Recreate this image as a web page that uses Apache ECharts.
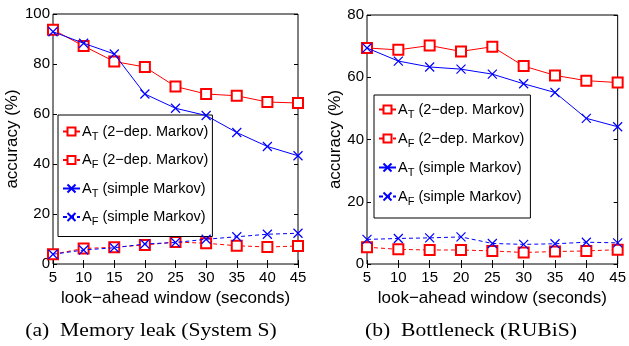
<!DOCTYPE html>
<html><head><meta charset="utf-8">
<script src="https://cdn.jsdelivr.net/npm/echarts@6/dist/echarts.min.js"></script>
<style>html,body{margin:0;padding:0;background:#fff}#c{width:629px;height:346px}</style>
</head><body><div id="c"></div>
<script>
var windows = [5, 10, 15, 20, 25, 30, 35, 40, 45];
// (a) Memory leak (System S)
var a_AT_dep = [93.7, 87.2, 81.0, 78.8, 71.0, 68.0, 67.3, 64.8, 64.4];
var a_AF_dep = [3.9, 6.2, 6.7, 7.6, 8.8, 8.3, 7.3, 6.8, 7.2];
var a_AT_simple = [92.9, 88.3, 84.0, 68.0, 62.3, 59.4, 52.6, 47.0, 43.3];
var a_AF_simple = [3.9, 5.6, 6.5, 8.0, 8.6, 9.9, 10.9, 11.9, 12.3];
// (b) Bottleneck (RUBiS)
var b_AT_dep = [69.4, 68.8, 70.2, 68.3, 69.8, 63.6, 60.6, 58.9, 58.3];
var b_AF_dep = [5.4, 4.7, 4.5, 4.5, 4.2, 3.7, 4.0, 4.2, 4.6];
var b_AT_simple = [69.4, 65.2, 63.3, 62.6, 61.0, 57.9, 55.1, 46.8, 44.1];
var b_AF_simple = [7.9, 8.2, 8.4, 8.7, 6.6, 6.3, 6.5, 7.0, 6.8];
var names = ['AT_dep', 'AF_dep', 'AT_simple', 'AF_simple'];
var legendText = {
  'AT_dep': 'A{s|T} (2\u2212dep. Markov)',
  'AF_dep': 'A{s|F} (2\u2212dep. Markov)',
  'AT_simple': 'A{s|T} (simple Markov)',
  'AF_simple': 'A{s|F} (simple Markov)'
};
var xName = 'look\u2212ahead window (seconds)';
var yName = 'accuracy (%)';
var captions = ['(a)  Memory leak (System S)', '(b)  Bottleneck (RUBiS)'];

var chart = echarts.init(document.getElementById('c'), null, {renderer: 'canvas'});
var font = 'Liberation Sans, Arial, sans-serif';
var RED = '#ff0000', BLUE = '#0000ff';
var xPath = 'path://M0,0L10,10M10,0L0,10';

function pairs(vals) { return windows.map(function (w, i) { return [w, vals[i]]; }); }

function mkSeries(name, vals, gi, style) {
  var isRed = style.color === RED;
  return {
    name: name, type: 'line', xAxisIndex: gi * 2, yAxisIndex: gi * 2,
    data: pairs(vals),
    symbol: isRed ? 'emptyRect' : xPath,
    symbolSize: isRed ? 10 : 9,
    showAllSymbol: true,
    lineStyle: {color: style.color, width: 1, type: style.dash ? [4, 3] : 'solid'},
    itemStyle: {color: style.color, borderColor: style.color, borderWidth: 1.2},
    emphasis: {disabled: true},
    animation: false, z: isRed ? 3 : 4
  };
}

var grids = [
  {left: 53, right: 331, top: 14, bottom: 82, show: true, borderColor: '#000', borderWidth: 1},
  {left: 367, right: 10, top: 15, bottom: 82, show: true, borderColor: '#000', borderWidth: 1}
];

function xAxes(gi) {
  var base = {
    type: 'value', gridIndex: gi, min: 5, max: 45, interval: 5,
    splitLine: {show: false},
    axisLine: {show: false},
    axisTick: {show: true, inside: true, length: 4, lineStyle: {color: '#000'}}
  };
  return [
    Object.assign({}, base, {position: 'bottom',
      axisLabel: {color: '#000', fontSize: 15, fontFamily: font, margin: 6},
      name: xName, nameLocation: 'middle', nameGap: 23,
      nameTextStyle: {color: '#000', fontSize: 17, fontFamily: font}}),
    Object.assign({}, base, {position: 'top', axisLabel: {show: false}})
  ];
}
function yAxes(gi, max) {
  var base = {
    type: 'value', gridIndex: gi, min: 0, max: max, interval: 20,
    splitLine: {show: false},
    axisLine: {show: false},
    axisTick: {show: true, inside: true, length: 4, lineStyle: {color: '#000'}}
  };
  return [
    Object.assign({}, base, {position: 'left',
      axisLabel: {color: '#000', fontSize: 15, fontFamily: font, margin: 3},
      name: yName, nameLocation: 'middle', nameGap: gi === 0 ? 27 : 20,
      nameTextStyle: {color: '#000', fontSize: 17, fontFamily: font}}),
    Object.assign({}, base, {position: 'right', axisLabel: {show: false}})
  ];
}

function legend(left, top, gap, pad) {
  return {
    data: names, orient: 'vertical', left: left, top: top,
    itemWidth: 17, itemHeight: 10, itemGap: gap,
    padding: pad,
    borderColor: '#000', borderWidth: 1, backgroundColor: '#fff',
    selectedMode: false,
    formatter: function (n) { return legendText[n]; },
    textStyle: {color: '#000', fontSize: 14.5, fontFamily: font, padding: [0, 0, 0, -3],
      rich: {s: {fontSize: 11, fontFamily: font, color: '#000', padding: [10, 0, 0, 0]}}}
  };
}

var capFont = '18px "Liberation Serif", "Times New Roman", serif';
var option = {
  backgroundColor: '#fff',
  animation: false,
  grid: grids,
  xAxis: xAxes(0).concat(xAxes(1)),
  yAxis: yAxes(0, 100).concat(yAxes(1, 80)),
  legend: [legend(58, 115, 10.5, [9, 4, 9, 4]), legend(374, 95, 11, [7, 6, 11, 4])],
  graphic: [
    {type: 'text', x: 151, y: 331, scaleX: 1.2, style: {text: captions[0], font: capFont, fill: '#000', textAlign: 'center', textVerticalAlign: 'middle'}},
    {type: 'text', x: 471, y: 331, scaleX: 1.2, style: {text: captions[1], font: capFont, fill: '#000', textAlign: 'center', textVerticalAlign: 'middle'}}
  ],
  series: [
    mkSeries('AT_dep', a_AT_dep, 0, {color: RED}),
    mkSeries('AF_dep', a_AF_dep, 0, {color: RED, dash: true}),
    mkSeries('AT_simple', a_AT_simple, 0, {color: BLUE}),
    mkSeries('AF_simple', a_AF_simple, 0, {color: BLUE, dash: true}),
    mkSeries('AT_dep', b_AT_dep, 1, {color: RED}),
    mkSeries('AF_dep', b_AF_dep, 1, {color: RED, dash: true}),
    mkSeries('AT_simple', b_AT_simple, 1, {color: BLUE}),
    mkSeries('AF_simple', b_AF_simple, 1, {color: BLUE, dash: true})
  ]
};
chart.setOption(option);
</script></body></html>
